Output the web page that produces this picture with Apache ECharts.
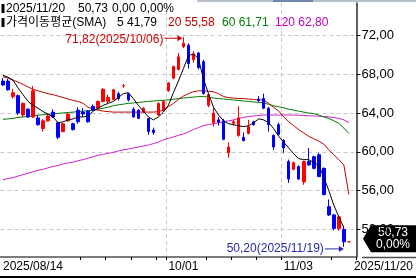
<!DOCTYPE html>
<html><head><meta charset="utf-8">
<script src="https://cdn.jsdelivr.net/npm/echarts@6/dist/echarts.min.js"></script>
<style>html,body{margin:0;padding:0;background:#fff;overflow:hidden}#c{width:416px;height:279px}</style>
</head><body><div id="c"></div>
<script>
const dates = ['2025/08/14','2025/08/15','2025/08/18','2025/08/19','2025/08/20','2025/08/21','2025/08/22','2025/08/25','2025/08/26','2025/08/27','2025/08/28','2025/08/29','2025/09/02','2025/09/03','2025/09/04','2025/09/05','2025/09/08','2025/09/09','2025/09/10','2025/09/11','2025/09/12','2025/09/15','2025/09/16','2025/09/17','2025/09/18','2025/09/19','2025/09/22','2025/09/23','2025/09/24','2025/09/25','2025/09/26','2025/09/29','2025/09/30','2025/10/01','2025/10/02','2025/10/03','2025/10/06','2025/10/07','2025/10/08','2025/10/09','2025/10/10','2025/10/13','2025/10/14','2025/10/15','2025/10/16','2025/10/17','2025/10/20','2025/10/21','2025/10/22','2025/10/23','2025/10/24','2025/10/27','2025/10/28','2025/10/29','2025/10/30','2025/10/31','2025/11/03','2025/11/04','2025/11/05','2025/11/06','2025/11/07','2025/11/10','2025/11/11','2025/11/12','2025/11/13','2025/11/14','2025/11/17','2025/11/18','2025/11/19','2025/11/20'];

const openP = [67.3,67.3,65.7,65.8,63.8,64.4,63.6,63.5,62.4,63.2,
64.1,63.0,62.1,63.2,62.9,64.3,64.1,64.2,64.7,64.5,
65.2,65.2,65.4,66.0,66.8,66.0,64.4,64.3,64.15,63.45,
62.25,63.8,64.3,66.3,67.6,68.5,70.85,71.0,69.5,70.2,
69.3,64.8,63.0,63.3,63.2,59.9,62.95,61.7,61.5,61.9,
63.1,65.45,65.5,64.5,61.7,62.8,61.2,59.0,58.2,58.5,
56.9,59.0,59.5,59.7,58.3,54.35,53.5,52.1,52.0,50.73];
const closeP = [66.9,66.4,66.1,64.0,65.0,63.6,66.3,62.8,63.2,63.7,
63.6,61.5,62.9,63.9,62.3,63.1,63.9,63.1,64.3,65.2,
66.45,65.6,66.4,65.5,66.83,65.35,63.6,63.45,64.5,62.1,
62.0,65.0,65.2,67.1,68.8,69.8,71.2,69.1,70.1,68.7,
66.0,65.9,64.0,63.05,61.3,60.5,63.1,63.5,61.15,62.6,
62.8,65.3,64.5,62.8,60.5,61.8,60.4,57.2,58.9,57.2,
59.0,58.65,58.3,57.45,55.6,53.5,52.1,53.3,50.73,50.73];
const highP = [67.6,67.5,66.5,65.9,65.1,64.5,66.8,63.8,63.4,63.9,
64.4,63.1,63.0,64.0,63.0,64.6,64.5,64.3,64.9,65.3,
66.6,65.9,66.5,66.2,67.0,66.1,64.6,64.4,64.6,63.5,
62.5,65.1,65.3,67.2,68.9,70.2,71.82,71.2,70.4,70.3,
69.5,66.0,64.6,63.6,63.4,61.0,63.3,64.7,62.0,63.3,
63.2,65.75,66.0,64.6,61.8,63.0,61.3,59.2,59.0,58.6,
59.1,60.4,59.6,59.9,58.4,55.1,53.6,53.4,52.3,50.73];
const lowP = [66.8,66.3,65.5,63.8,63.6,63.5,63.5,62.7,62.1,63.1,
63.5,61.3,62.0,63.1,62.2,62.9,63.6,63.0,64.2,64.4,
65.1,65.0,65.3,65.3,66.6,65.2,63.5,63.4,64.0,61.75,
61.75,63.7,64.2,66.2,67.5,68.4,70.7,68.6,69.2,68.5,
65.9,64.6,62.6,62.7,61.2,59.4,62.7,61.55,61.1,61.8,
62.7,65.15,64.4,62.1,60.2,61.7,59.9,56.8,58.1,57.1,
56.6,58.6,58.2,57.4,55.5,53.4,51.9,51.85,50.2,50.73];

const sma5 = [67.9,67.7,67.4,66.6,65.9,65.2,64.8,64.5,64.15,63.9,
63.6,63.0,63.1,63.3,63.4,63.6,63.6,63.7,64.2,64.5,
64.8,65.0,65.2,65.6,66.0,66.1,65.5,64.8,64.2,63.6,
63.3,63.6,64.1,64.8,66.1,67.3,68.6,69.9,70.1,69.6,
67.5,66.0,64.6,63.8,63.2,62.9,62.8,62.7,62.6,62.7,
63.0,63.4,63.3,63.0,62.4,61.6,61.0,60.4,59.8,59.3,
59.2,59.2,58.9,58.6,57.4,56.0,54.5,53.3,52.2,null];
const sma20 = [67.75,67.6,67.4,67.2,66.95,66.7,66.45,66.3,66.15,66.0,
65.9,65.75,65.6,65.45,65.3,65.2,65.0,64.6,64.4,64.3,
64.2,64.15,64.1,64.1,64.1,64.1,64.1,64.1,64.1,64.1,
64.1,64.15,64.3,64.66,65.0,65.4,65.76,66.0,66.2,66.3,
66.3,66.25,66.2,66.0,65.7,65.6,65.55,65.5,65.5,65.45,
65.4,65.35,65.35,65.0,64.6,64.2,63.6,63.1,62.7,62.3,
61.95,61.6,61.35,61.1,60.8,60.2,59.7,59.2,58.65,55.6];
const sma60 = [63.36,63.4,63.45,63.55,63.6,63.65,63.7,63.78,63.82,63.88,
63.92,63.97,64.02,64.06,64.1,64.15,64.2,64.25,64.3,64.4,
64.5,64.62,64.75,64.85,64.92,65.0,65.05,65.1,65.15,65.2,
65.25,65.28,65.32,65.36,65.42,65.5,65.55,65.6,65.65,65.7,
65.7,65.65,65.55,65.5,65.45,65.4,65.35,65.3,65.25,65.2,
65.15,65.1,65.05,64.9,64.75,64.65,64.55,64.4,64.3,64.2,
64.1,64.0,63.95,63.8,63.6,63.45,63.2,62.95,62.45,61.9];
const sma120 = [57.1,57.25,57.35,57.5,57.65,57.8,57.95,58.1,58.2,58.35,
58.5,58.6,58.75,58.85,58.95,59.1,59.2,59.35,59.5,59.65,
59.75,59.85,59.95,60.1,60.2,60.3,60.4,60.5,60.6,60.7,
60.85,61.0,61.25,61.4,61.55,61.7,61.85,62.05,62.3,62.5,
62.7,62.8,62.9,63.0,63.1,63.2,63.3,63.45,63.55,63.65,
63.7,63.75,63.8,63.8,63.8,63.8,63.8,63.8,63.8,63.78,
63.75,63.72,63.7,63.68,63.65,63.6,63.55,63.45,63.3,63.0];

const yTicks = [52,56,60,64,68,72];
const xLabelIdx = [0,33,56,69];
const xLabelText = ['2025/08/14','10/01','11/03','2025/11/20'];
const xTickIdx = [16,21,26,31,33,41,46,51,56,66];
const xGridIdx = [33,56];
const highIdx = 36, highVal = 71.82, highText = '71,82(2025/10/06)';
const lowIdx = 68, lowVal = 50.20, lowText = '50,20(2025/11/19)';
const lastPrice = 50.73;
const headLine1 = ['2025/11/20','50,73','0,00','0,00%'];
const headLine2 = [['가격이동평균(SMA)','#000'],['5 41,79','#000'],['20 55,58','#c00000'],['60 61,71','#008000'],['120 62,80','#c000c0']];
const lastLabel = ['50,73','0,00%'];

const FONT = '"Liberation Sans", "Noto Sans CJK KR", sans-serif';
const chart = echarts.init(document.getElementById('c'), null, {renderer:'canvas'});
const cats = dates.concat(['']);
const fmt = v => v.toFixed(2).replace('.', ',');

chart.setOption({
  animation:false,
  grid:{left:0,right:54,top:3,bottom:22,containLabel:false},
  xAxis:{type:'category',data:cats,boundaryGap:true,
    axisLine:{show:true,lineStyle:{color:'#505050',width:1.5}},
    axisTick:{show:true,inside:false,length:3,interval:(i)=>xTickIdx.includes(i),lineStyle:{color:'#000'}},
    axisLabel:{show:true,interval:(i)=>xLabelIdx.includes(i),align:'left',margin:4,color:'#000',fontSize:12,fontFamily:FONT,hideOverlap:false,
      formatter:(v,i)=>{const k=xLabelIdx.indexOf(i);if(k<0)return '';return k===3?'{r|'+xLabelText[k]+'}':xLabelText[k];},
      rich:{r:{padding:[0,0,0,5],fontSize:12,fontFamily:FONT,color:'#000'}}},
    splitLine:{show:true,interval:(i)=>xGridIdx.includes(i),lineStyle:{color:'#c8c8c8',type:[4,3],width:1}}
  },
  yAxis:{type:'value',position:'right',min:49.16,max:75.35,scale:true,
    axisLine:{show:true,lineStyle:{color:'#303030',width:1.5}},
    axisTick:{show:true,inside:false,length:4,customValues:yTicks,lineStyle:{color:'#000'}},
    axisLabel:{show:true,customValues:yTicks,formatter:fmt,margin:5,color:'#000',fontSize:13,fontFamily:'"Liberation Sans Narrow", "Liberation Sans", sans-serif'},
    splitLine:{show:true,lineStyle:{color:'#c8c8c8',type:[4,3],width:1}}
  },
  series:[
    {type:'line',data:sma120,showSymbol:false,lineStyle:{color:'#d020d0',width:1},z:2},
    {type:'line',data:sma60,showSymbol:false,lineStyle:{color:'#007800',width:1},z:2},
    {type:'line',data:sma20,showSymbol:false,lineStyle:{color:'#c00000',width:1},z:2},
    {type:'candlestick',barWidth:3,z:3,
      data:dates.map((d,i)=>[openP[i],closeP[i],lowP[i],highP[i]]),
      itemStyle:{color:'#ff0000',color0:'#0000ff',borderColor:'#ff0000',borderColor0:'#0000ff',borderColorDoji:'#ff0000',borderWidth:1}},
    {type:'line',data:sma5,showSymbol:false,lineStyle:{color:'#000',width:1},z:4}
  ]
});

const px = (i,v)=>chart.convertToPixel({xAxisIndex:0,yAxisIndex:0},[i,v]);
const hp = px(highIdx,highVal), lp = px(lowIdx,lowVal), cp = px(dates.length-1,lastPrice);
const g = [];
g.push({type:'rect',shape:{x:197,y:0,width:219,height:2},style:{fill:'#b8c0cc'}});
g.push({type:'rect',shape:{x:273,y:0,width:40,height:2},style:{fill:'#7088b0'}});
g.push({type:'rect',shape:{x:0,y:276,width:416,height:2},style:{fill:'#000'}});
g.push({type:'line',shape:{x1:362,y1:257.5,x2:416,y2:257.5},style:{stroke:'#505050',lineWidth:1.5}});
g.push({type:'rect',shape:{x:1.5,y:4,width:3,height:9},style:{fill:'#000'}});
g.push({type:'rect',shape:{x:1.5,y:18,width:3,height:9},style:{fill:'#000'}});
const l1x=[6,78,112,140];
headLine1.forEach((t,k)=>g.push({type:'text',x:l1x[k],y:8.5,style:{text:t,fill:'#000',font:'12px '+FONT,textVerticalAlign:'middle'}}));
const l2x=[6,117,168,222,275];
headLine2.forEach((t,k)=>g.push({type:'text',x:l2x[k],y:22.5,style:{text:t[0],fill:t[1],font:'12px '+FONT,textVerticalAlign:'middle'}}));
g.push({type:'text',x:hp[0]-20,y:hp[1]+2,style:{text:highText,fill:'#d00000',font:'12px '+FONT,textAlign:'right',textVerticalAlign:'middle'}});
g.push({type:'line',shape:{x1:hp[0]-19,y1:hp[1]+1,x2:hp[0]-3,y2:hp[1]+1},style:{stroke:'#d00000',lineWidth:1}});
g.push({type:'polygon',shape:{points:[[hp[0]-1,hp[1]+1],[hp[0]-6,hp[1]-2],[hp[0]-6,hp[1]+4]]},style:{fill:'#d00000'}});
g.push({type:'text',x:lp[0]-20,y:lp[1]+2,style:{text:lowText,fill:'#2a2aa8',font:'12px '+FONT,textAlign:'right',textVerticalAlign:'middle'}});
g.push({type:'line',shape:{x1:lp[0]-19,y1:lp[1]+2,x2:lp[0]-2,y2:lp[1]+2},style:{stroke:'#2a2aa8',lineWidth:1}});
g.push({type:'polygon',shape:{points:[[lp[0],lp[1]+2],[lp[0]-5,lp[1]-1],[lp[0]-5,lp[1]+5]]},style:{fill:'#2a2aa8'}});
const y0 = cp[1];
g.push({type:'polygon',shape:{points:[[363,y0-3],[371,y0-16.5],[416,y0-16.5],[416,y0+10.5],[371,y0+10.5]]},style:{fill:'#000'}});
g.push({type:'text',x:393,y:y0-9.5,style:{text:lastLabel[0],fill:'#fff',font:'12px '+FONT,textAlign:'center',textVerticalAlign:'middle'}});
g.push({type:'text',x:393,y:y0+2.5,style:{text:lastLabel[1],fill:'#fff',font:'12px '+FONT,textAlign:'center',textVerticalAlign:'middle'}});
chart.setOption({graphic:g});
</script></body></html>
